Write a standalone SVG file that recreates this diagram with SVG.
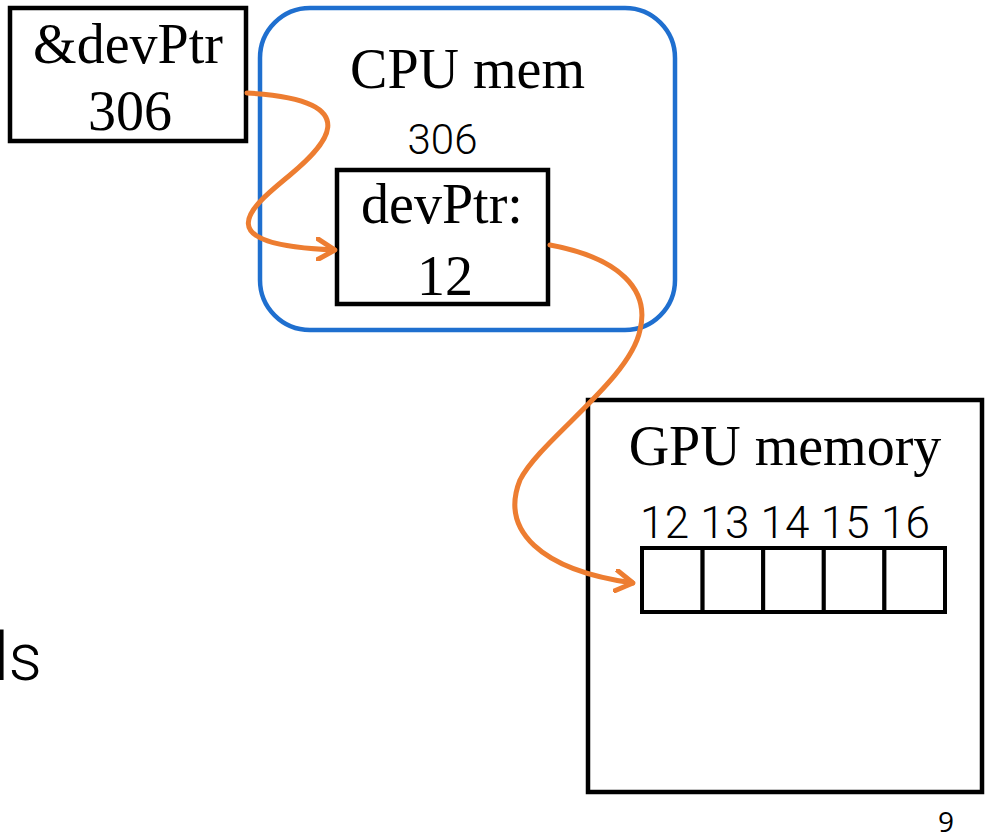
<svg xmlns="http://www.w3.org/2000/svg" width="986" height="840" viewBox="0 0 986 840">
<style>
.box{fill:#fff;stroke:#000;stroke-width:4.5;stroke-linejoin:miter}
.cell{fill:#fff;stroke:#000;stroke-width:4}
.serif{font-family:"Liberation Serif","Times New Roman",serif;font-size:56px;fill:#000}
.sans{font-family:Roboto,"Liberation Sans",Arial,sans-serif;font-weight:300;fill:#000}
.conn{fill:none;stroke:#ED7D31;stroke-width:5;stroke-linecap:round}
</style>
<defs>
<marker id="arr" viewBox="0 0 20 24" refX="19" refY="12" markerWidth="20" markerHeight="24" markerUnits="userSpaceOnUse" orient="auto">
<path d="M1.5,1.5 L19,12 L1.5,22.5" fill="none" stroke="#ED7D31" stroke-width="5" stroke-linecap="round" stroke-linejoin="round"/>
</marker>
</defs>
<rect width="986" height="840" fill="#fff"/>

<g id="addr-devPtr">
<rect class="box" x="10" y="8" width="236" height="133"/>
<text class="serif" x="128" y="63" text-anchor="middle">&amp;devPtr</text>
<text class="serif" x="130" y="130" text-anchor="middle">306</text>
</g>

<g id="cpu-mem">
<rect x="260" y="8" width="415" height="322" rx="50" ry="50" fill="none" stroke="#1F6FCF" stroke-width="4.5"/>
<text class="serif" x="467.5" y="88" text-anchor="middle" font-size="57">CPU mem</text>
<text class="sans" x="442.5" y="154" text-anchor="middle" font-size="42">306</text>
</g>

<g id="devPtr">
<rect class="box" x="337" y="170" width="211" height="134"/>
<text class="serif" x="442" y="223" text-anchor="middle">devPtr:</text>
<text class="serif" x="445" y="295" text-anchor="middle">12</text>
</g>

<g id="gpu-memory">
<rect class="box" x="588" y="400" width="394" height="392" stroke-width="5"/>
<text class="serif" x="785" y="465" text-anchor="middle" font-size="57">GPU memory</text>
<text class="sans" x="640" y="538" font-size="44" textLength="290" lengthAdjust="spacing">12 13 14 15 16</text>
<rect class="cell" x="642" y="548" width="60.6" height="64"/>
<rect class="cell" x="702.6" y="548" width="60.6" height="64"/>
<rect class="cell" x="763.2" y="548" width="60.6" height="64"/>
<rect class="cell" x="823.8" y="548" width="60.6" height="64"/>
<rect class="cell" x="884.4" y="548" width="60.6" height="64"/>
</g>

<g id="connectors">
<path class="conn" d="M247,93 C375,100 320,150 290,175 C254,205 200,245 335,250" marker-end="url(#arr)"/>
<path class="conn" d="M550,245 C620,258 650,290 640,330 C630,380 540,440 520,480 C500,530 540,570 633,583" marker-end="url(#arr)"/>
</g>

<text class="sans" x="42" y="680" text-anchor="end" font-size="66">ds</text>
<text x="938" y="832" font-family="'Open Sans','Liberation Sans',sans-serif" font-size="28" fill="#000">9</text>
</svg>
